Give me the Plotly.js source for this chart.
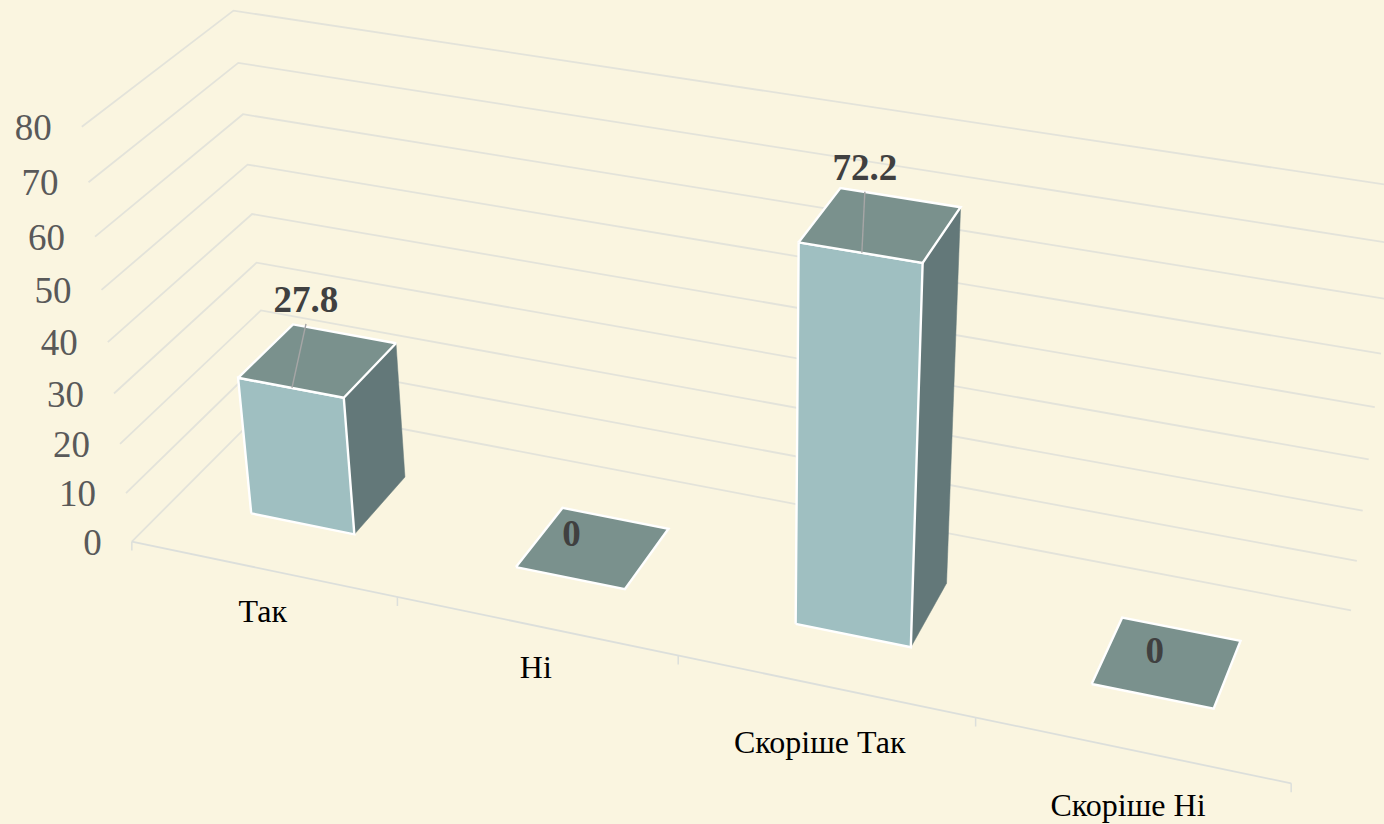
<!DOCTYPE html>
<html><head><meta charset="utf-8">
<script src="https://cdn.plot.ly/plotly-3.0.1.min.js"></script>
<style>html,body{margin:0;padding:0;background:#FAF5E0;overflow:hidden}#c{width:1384px;height:824px}</style>
</head><body><div id="c"></div>
<script>
const categories = ['Так', 'Ні', 'Скоріше Так', 'Скоріше Ні'];
const values = [27.8, 0, 72.2, 0];
const valueTicks = [0, 10, 20, 30, 40, 50, 60, 70, 80];

// Camera calibration: (category, depth, value) -> screen pixel of the perspective view
const calib = [
 [0,0,0,133,542],[1,0,0,397,597],[2,0,0,678,656],[3,0,0,975,718],[4,0,0,1292,782],
 [0,0,10,126,493],[0,0,20,120,444],[0,0,30,114,393],[0,0,40,108,342],[0,0,50,101,290],[0,0,60,95,237],[0,0,70,88,182],[0,0,80,82,127],
 [0,1,20,260,311],[0,1,30,256,263],[0,1,40,253,213],[0,1,50,248,164],[0,1,60,243,114],[0,1,70,238,63],[0,1,80,234,11],
 [4,1,0,1351,610],[4,1,10,1357,561],[4,1,20,1363,511],[4,1,30,1368,460],[4,1,40,1375,407]
];
function solve(A,b){const n=b.length;for(let i=0;i<n;i++){let m=i;for(let r=i+1;r<n;r++)if(Math.abs(A[r][i])>Math.abs(A[m][i]))m=r;
 [A[i],A[m]]=[A[m],A[i]];[b[i],b[m]]=[b[m],b[i]];
 for(let r=i+1;r<n;r++){const f=A[r][i]/A[i][i];for(let c=i;c<n;c++)A[r][c]-=f*A[i][c];b[r]-=f*b[i];}}
 const x=Array(n).fill(0);for(let i=n-1;i>=0;i--){let s=b[i];for(let c=i+1;c<n;c++)s-=A[i][c]*x[c];x[i]=s/A[i][i];}return x;}
const P=(function(){const rows=[],rhs=[];calib.forEach(([X,Y,Z,u,v])=>{const z=Z/80,a=u/1000,c=v/1000;
 rows.push([X,Y,z,1,0,0,0,0,-a*X,-a*Y,-a*z]);rhs.push(a);
 rows.push([0,0,0,0,X,Y,z,1,-c*X,-c*Y,-c*z]);rhs.push(c);});
 const n=11,A=[...Array(n)].map(()=>Array(n).fill(0)),b=Array(n).fill(0);
 rows.forEach((r,k)=>{for(let i=0;i<n;i++){b[i]+=r[i]*rhs[k];for(let j=0;j<n;j++)A[i][j]+=r[i]*r[j];}});
 return solve(A,b);})();
function proj(X,Y,Zv){const Z=Zv/80,w=P[8]*X+P[9]*Y+P[10]*Z+1;
 return [1000*(P[0]*X+P[1]*Y+P[2]*Z+P[3])/w,1000*(P[4]*X+P[5]*Y+P[6]*Z+P[7])/w];}

const gridColor='#E3E3DA', tickColor='#DCDFDB', white='#FFFFFF',
 frontC='#9FBFC1', topC='#7A918D', sideC='#637879',
 serif='"Liberation Serif","Times New Roman",serif';
const traces=[];
function poly(pts,opt){traces.push(Object.assign({type:'scatter',mode:'lines',x:pts.map(p=>p[0]),y:pts.map(p=>p[1]),
 hoverinfo:'skip',showlegend:false},opt));}
function label(pt,text,size,color,bold,pos){traces.push({type:'scatter',mode:'text',x:[pt[0]],y:[pt[1]],text:[bold?'<b>'+text+'</b>':text],
 textposition:pos||'middle center',textfont:{family:serif,size:size,color:color},hoverinfo:'skip',showlegend:false});}

// gridlines on the two walls
valueTicks.forEach(t=>poly([proj(0,0,t),proj(0,1,t),proj(4,1,t)],{line:{color:gridColor,width:1.8}}));
// category axis with tick marks
poly([proj(0,0,0),proj(4,0,0)],{line:{color:tickColor,width:1.8}});
for(let i=0;i<=categories.length;i++){const p=proj(i,0,0);poly([p,[p[0],p[1]+9]],{line:{color:tickColor,width:1.5}});}

// bars
const u0=.297,u1=.693,v0=.3,v1=.7;
const edge={color:white,width:2.4};
values.forEach((val,i)=>{
 const a=i+u0,b=i+u1;
 if(val>0){
  poly([proj(b,v0,0),proj(b,v1,0),proj(b,v1,val),proj(b,v0,val),proj(b,v0,0)],{fill:'toself',fillcolor:sideC,line:{color:sideC,width:0.5}});
  poly([proj(a,v0,0),proj(b,v0,0),proj(b,v0,val),proj(a,v0,val),proj(a,v0,0)],{fill:'toself',fillcolor:frontC,line:edge});
 }
 poly([proj(a,v0,val),proj(b,v0,val),proj(b,v1,val),proj(a,v1,val),proj(a,v0,val)],{fill:'toself',fillcolor:topC,line:edge});
});

// value-axis labels
valueTicks.forEach(t=>{const p=proj(0,0,t);label([p[0]-30,p[1]+4],String(t),37,'#595959',false,'middle left');});
// category labels
const catNudge=[[0,45],[0,44],[-5,59],[-3,58]];
categories.forEach((c,i)=>{const p=proj(i+.5,0,0);label([p[0]+catNudge[i][0],p[1]+catNudge[i][1]],c,32,'#000000',false);});
// data labels and leader lines
const labelNudge=[[14,-85],[0,-42],[3,-82],[1,-43]];
values.forEach((val,i)=>{const p=proj(i+.5,v0,val),q=[p[0]+labelNudge[i][0],p[1]+labelNudge[i][1]];
 if(val>0)poly([p,[q[0],q[1]+21]],{line:{color:'#A6A6A6',width:1.4}});
 label(q,String(val),37,'#404040',true);});

Plotly.newPlot('c',traces,{width:1384,height:824,margin:{l:0,r:0,t:0,b:0},showlegend:false,
 paper_bgcolor:'#FAF5E0',plot_bgcolor:'#FAF5E0',
 xaxis:{range:[0,1384],visible:false,fixedrange:true},
 yaxis:{range:[824,0],visible:false,fixedrange:true}},{displayModeBar:false,staticPlot:true});
</script></body></html>
